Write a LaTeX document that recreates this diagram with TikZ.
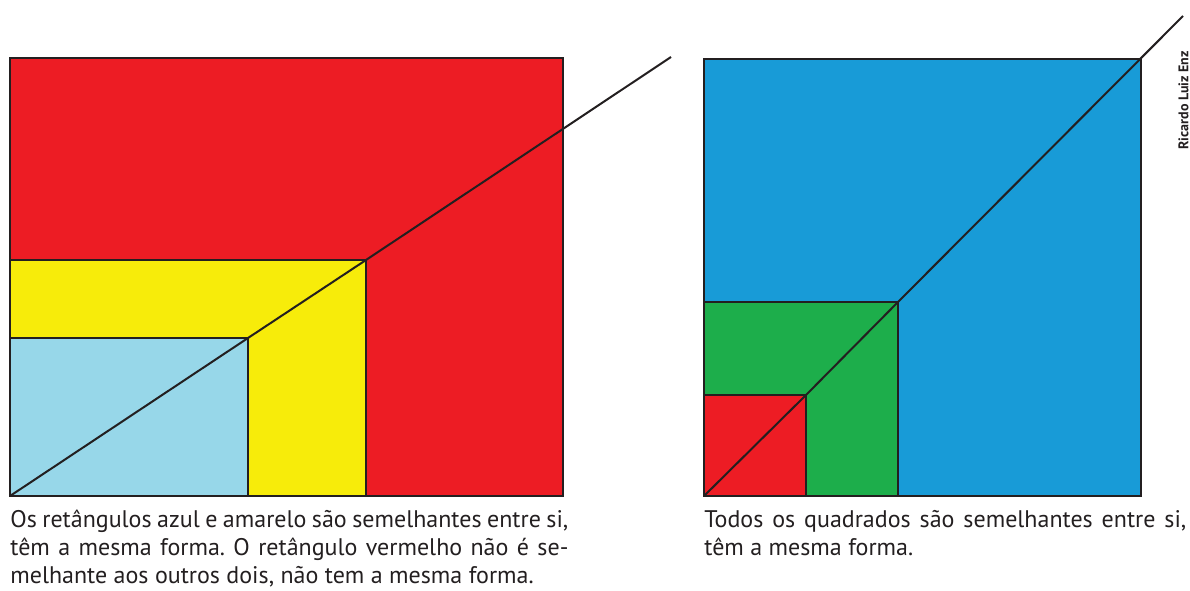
\documentclass[tikz,border=0pt]{standalone}
\usepackage{fontspec}
\setmainfont{PT Sans}
\usetikzlibrary{calc}
\definecolor{figred}{RGB}{237,28,36}
\definecolor{figyellow}{RGB}{247,236,10}
\definecolor{figlightblue}{RGB}{151,215,233}
\definecolor{figblue}{RGB}{24,155,215}
\definecolor{figgreen}{RGB}{29,174,75}
\definecolor{figline}{RGB}{35,31,32}
\frenchspacing

\begin{document}
\begin{tikzpicture}[x=0.5pt, y=-0.5pt,
    piece/.style={draw=figline, line width=1.1pt},
    diag/.style={figline, line width=1pt},
    caption/.style={anchor=north west, inner sep=0pt, align=justify,
        font=\fontsize{12}{14}\selectfont, text=figline}]
    \useasboundingbox (0,0) rectangle (1190,590);

    % Define the points
    \coordinate (A) at (10,496);
    \coordinate (B) at (563,58);
    \coordinate (C) at (366,260);
    \coordinate (D) at (248,338);
    \coordinate (E) at (671,57);

    \coordinate (P) at (704,496);
    \coordinate (Q) at (1141,59);
    \coordinate (R) at (898,302);
    \coordinate (S) at (806,395);
    \coordinate (T) at (1183,16);

    % Draw the rectangles
    \filldraw[piece, fill=figred] (A) rectangle (B);
    \filldraw[piece, fill=figyellow] (A) rectangle (C);
    \filldraw[piece, fill=figlightblue] (A) rectangle (D);

    % Draw the squares
    \filldraw[piece, fill=figblue] (P) rectangle (Q);
    \filldraw[piece, fill=figgreen] (P) rectangle (R);
    \filldraw[piece, fill=figred] (P) rectangle (S);

    % Draw the diagonals
    \draw[diag] (A) -- (D) -- (C) -- (E);
    \draw[diag] (P) -- (S) -- (R) -- (T);

    % Captions
    \node[caption, text width=279pt] (capL) at (10,510)
        {Os retângulos azul e amarelo são semelhantes entre si,\linebreak
         têm a mesma forma. O retângulo vermelho não é se-\linebreak
         melhante aos outros dois, não tem a mesma forma.};
    \node[caption, text width=241pt] (capR) at (704,510)
        {Todos os quadrados são semelhantes entre si,\linebreak
         têm a mesma forma.};

    % Credit
    \node[rotate=90, anchor=south west, inner sep=0pt, text=figline,
        font=\bfseries\fontsize{7}{8}\selectfont] (credit) at (1189,150)
        {Ricardo Luiz Enz};
\end{tikzpicture}
\end{document}
